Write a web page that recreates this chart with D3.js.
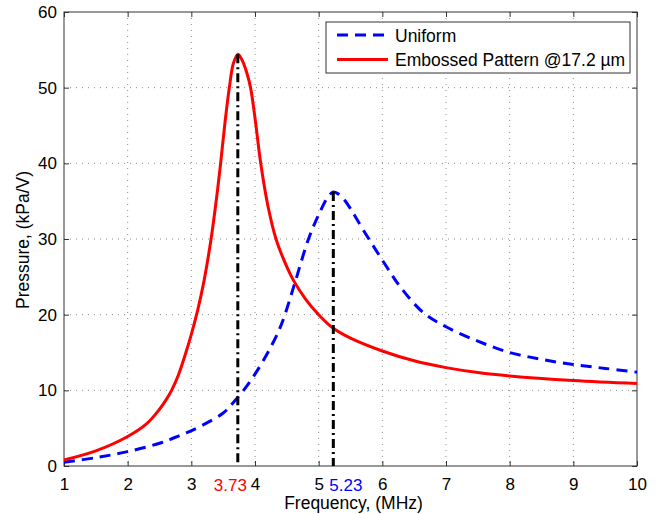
<!DOCTYPE html>
<html><head><meta charset="utf-8">
<script src="https://cdn.jsdelivr.net/npm/d3@7/dist/d3.min.js"></script>
<style>
html,body{margin:0;padding:0;background:#fff;}
text{font-family:"Liberation Sans",Arial,Helvetica,sans-serif;}
</style></head>
<body><svg id="c" width="662" height="514"></svg>
<script>
const redFreq = [1.0,1.5,2.0,2.3,2.5,2.6,2.69,2.8,2.9,3.0,3.1,3.2,3.31,3.39,3.46,3.53,3.6,3.66,3.73,3.8,3.87,3.93,4.0,4.09,4.2,4.33,4.45,4.6,4.8,5.0,5.23,5.5,6.0,6.5,7.0,7.5,8.0,9.0,10.0];
const redVals = [0.8,2.0,3.9,5.6,7.5,8.7,10,12.1,14.6,17.4,20.6,24.5,30,35,40,45.5,50.2,53.2,54.4,53.6,52,50,46,40,34.5,30,27.3,24.6,22.0,20.0,18.2,16.9,15.2,13.9,13.0,12.35,11.9,11.3,10.9];
const blueFreq = [1.0,1.5,2.0,2.5,2.72,2.93,3.2,3.5,3.65,3.82,4.02,4.24,4.38,4.47,4.63,4.84,5.0,5.15,5.23,5.3,5.4,5.5,5.7,6.07,6.28,6.64,7.0,7.5,8.0,8.5,9.0,9.5,10.0];
const blueVals = [0.5,1.1,1.9,3.0,3.7,4.4,5.5,7.0,8.3,10,12.4,15.6,18.0,20,24.3,30,33.2,35.6,36.2,36.0,35.2,34.0,31.2,26.3,23.7,20.3,18.4,16.5,15.0,14.1,13.4,12.9,12.4];
const xTicks = [1,2,3,4,5,6,7,8,9,10];
const yTicks = [0,10,20,30,40,50,60];
const peakFreqs = [3.73,5.23];
const peakVals = [54.4,36.2];
const peakLabels = ["3.73","5.23"];
const seriesNames = ["Uniform","Embossed Pattern @17.2 \u00b5m"];

const svg = d3.select("#c");
const L=64,R=637,T=12,B=466;
const x = d3.scaleLinear().domain([1,10]).range([L,R]);
const y = d3.scaleLinear().domain([0,60]).range([B,T]);

// grid
const g = svg.append("g");
g.selectAll(".gx").data(xTicks.slice(1,-1)).enter().append("line")
 .attr("x1",d=>x(d)).attr("x2",d=>x(d)).attr("y1",T).attr("y2",B)
 .attr("stroke","#8c8c8c").attr("stroke-width",1).attr("stroke-dasharray","1,5");
g.selectAll(".gy").data(yTicks.slice(1,-1)).enter().append("line")
 .attr("y1",d=>y(d)).attr("y2",d=>y(d)).attr("x1",L).attr("x2",R)
 .attr("stroke","#8c8c8c").attr("stroke-width",1).attr("stroke-dasharray","1,5");

// axes
const ax = svg.append("g").attr("transform",`translate(0,${B})`)
 .call(d3.axisBottom(x).tickValues(xTicks).tickSize(-5).tickPadding(12).tickFormat(d3.format("d")));
const ay = svg.append("g").attr("transform",`translate(${L},0)`)
 .call(d3.axisLeft(y).tickValues(yTicks).tickSize(-5).tickPadding(7).tickFormat(d3.format("d")));
const axT = svg.append("g").attr("transform",`translate(0,${T})`)
 .call(d3.axisTop(x).tickValues(xTicks).tickSize(-5).tickFormat(""));
const ayR = svg.append("g").attr("transform",`translate(${R},0)`)
 .call(d3.axisRight(y).tickValues(yTicks).tickSize(-5).tickFormat(""));
[ax,ay,axT,ayR].forEach(a=>{
  a.select(".domain").remove();
  a.selectAll("line").attr("stroke","#333");
  a.selectAll("text").attr("font-size",17).attr("fill","#000");
});
svg.append("rect").attr("x",L).attr("y",T).attr("width",R-L).attr("height",B-T)
 .attr("fill","none").attr("stroke","#333").attr("stroke-width",1);

// curves
const line = d3.line().x(d=>x(d[0])).y(d=>y(d[1])).curve(d3.curveCatmullRom.alpha(0.5));
svg.append("path").datum(blueFreq.map((f,i)=>[f,blueVals[i]]))
 .attr("d",line).attr("fill","none").attr("stroke","#0000ff").attr("stroke-width",3)
 .attr("stroke-dasharray","11,7");
svg.append("path").datum(redFreq.map((f,i)=>[f,redVals[i]]))
 .attr("d",line).attr("fill","none").attr("stroke","#ff0000").attr("stroke-width",3);

// dash-dot peak markers
svg.selectAll(".pk").data(peakFreqs).enter().append("line")
 .attr("x1",d=>x(d)).attr("x2",d=>x(d)).attr("y1",(d,i)=>y(peakVals[i])).attr("y2",B)
 .attr("stroke","#000").attr("stroke-width",3).attr("stroke-dasharray","9,4,2,4");

// peak labels
const pkColors = ["#ff0000","#0000ff"];
const pkAnchorX = [x(3.73)-24, x(5.23)-4];
svg.selectAll(".pl").data(peakLabels).enter().append("text")
 .attr("x",(d,i)=>pkAnchorX[i]).attr("y",B+24.5).attr("font-size",17)
 .attr("fill",(d,i)=>pkColors[i]).text(d=>d);

// axis titles
svg.append("text").attr("x",(L+R)/2+3).attr("y",509).attr("text-anchor","middle")
 .attr("font-size",17.5).text("Frequency, (MHz)");
svg.append("text").attr("transform","translate(29,240) rotate(-90)").attr("text-anchor","middle")
 .attr("font-size",17.5).text("Pressure, (kPa/V)");

// legend
const lg = svg.append("g");
lg.append("rect").attr("x",326).attr("y",22).attr("width",304).attr("height",51)
 .attr("fill","#fff").attr("stroke","#333").attr("stroke-width",1);
const lgStyles = [{c:"#0000ff",dash:"11,7"},{c:"#ff0000",dash:null}];
seriesNames.forEach((n,i)=>{
  const yy = 35 + i*24.5;
  const l = lg.append("line").attr("x1",337).attr("x2",388).attr("y1",yy).attr("y2",yy)
    .attr("stroke",lgStyles[i].c).attr("stroke-width",3);
  if(lgStyles[i].dash) l.attr("stroke-dasharray",lgStyles[i].dash);
  lg.append("text").attr("x",395).attr("y",yy+6.5).attr("font-size",17.5).text(n);
});
</script></body></html>
